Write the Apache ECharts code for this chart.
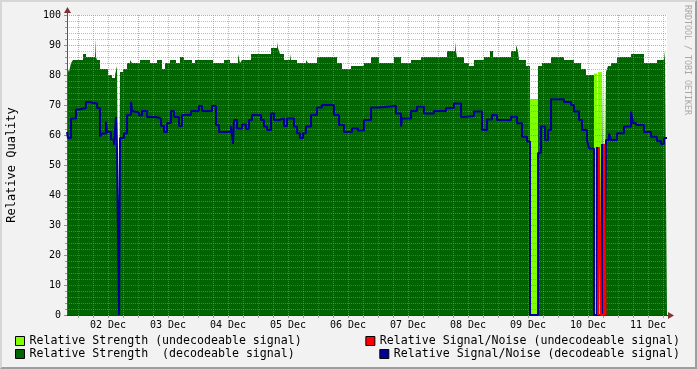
<!DOCTYPE html>
<html><head><meta charset="utf-8">
<script src="https://cdn.jsdelivr.net/npm/echarts@6/dist/echarts.min.js"></script>
<style>
html,body{margin:0;padding:0;background:#f2f2f2;}
#wrap{position:relative;width:697px;height:369px;}
#chart{width:697px;height:369px;}
#frame{position:absolute;left:0;top:0;width:697px;height:369px;box-sizing:border-box;border-top:2px solid #d6d6d6;border-left:2px solid #d6d6d6;border-right:2px solid #9e9e9e;border-bottom:2px solid #9e9e9e;pointer-events:none;}
</style></head><body>
<div id="wrap"><div id="chart"></div><div id="frame"></div></div>
<script>
// ---- data (time in hours since 01 Dec 00:00) ----
const timeStart = 19.6, timeEnd = 259.6;
const dayStarts = [24, 48, 72, 96, 120, 144, 168, 192, 216, 240];
const dayLabels = ['02 Dec','03 Dec','04 Dec','05 Dec','06 Dec','07 Dec','08 Dec','09 Dec','10 Dec','11 Dec'];

const seriesNames = [
  'Relative Strength (undecodeable signal)',
  'Relative Strength  (decodeable signal)',
  'Relative Signal/Noise (undecodeable signal)',
  'Relative Signal/Noise (decodeable signal)'
];

const strengthDecT = [19.6,20.4,21.2,22.0,26.0,27.2,30.8,31.2,31.6,32.8,36.0,37.6,38.8,39.6,40.4,40.8,42.0,43.6,44.8,45.6,48.8,52.8,55.6,57.6,58.8,60.8,63.2,64.8,66.4,69.6,70.8,78.0,82.4,84.8,88.0,88.8,89.6,93.2,101.2,103.6,104.0,104.8,106.4,108.8,109.2,111.6,115.2,116.0,119.6,127.6,129.6,133.2,138.4,141.2,144.4,150.4,153.2,157.2,161.2,171.6,174.8,175.2,175.6,178.4,180.4,182.4,186.4,188.8,190.0,197.2,199.2,200.0,200.4,203.2,204.8,208.0,209.6,213.2,218.4,222.4,225.2,227.2,230.4,231.6,232.0,233.6,234.4,235.2,236.0,237.2,239.6,245.2,250.4,255.6,258.4,258.8,259.6];
const strengthDecV = [83,81,84,85,87,86,92,86,85,82,80,79,80,83,0,81,82,84,85,84,85,84,85,82,84,85,84,86,85,84,85,84,85,84,87,84,85,87,89,91,89,87,85,87,85,84,85,84,86,84,82,83,84,86,84,86,84,85,86,88,91,88,86,84,83,85,86,88,86,88,90,88,85,83,0,83,84,86,85,84,82,80,0,80,0,80,0,81,83,84,86,87,84,85,88,85,85];

const strengthUndT = [19.6,33.6,34.4,40.4,40.8,65.2,65.6,84.4,85.2,86.4,86.8,204.4,204.8,208.0,209.2,209.6,230.4,231.6,232.0,233.6,234.4,235.2,259.6];
const strengthUndV = [0,85,0,81,0,86,0,85,0,84,0,84,72,0,85,0,80.5,0,81,0,80.5,0,0];

const snDecT = [19.6,20.0,21.2,23.2,24.4,27.2,28.4,31.6,32.8,33.6,35.2,35.6,37.2,38.4,39.2,39.6,40.4,40.8,42.4,43.6,45.2,45.6,46.4,48.4,49.6,51.6,55.2,57.2,58.4,59.6,61.2,62.4,64.4,65.6,69.2,72.4,73.6,77.6,79.2,80.4,85.2,86.0,86.4,87.6,89.6,91.2,92.4,93.6,97.2,98.4,99.6,101.2,102.4,104.4,106.4,107.6,110.4,111.6,112.8,114.0,115.2,117.2,119.6,121.6,126.4,128.4,130.4,133.6,136.0,138.4,141.2,144.4,151.2,153.2,153.6,157.2,159.6,162.4,166.4,171.2,174.4,177.2,178.4,179.2,182.4,185.6,187.6,189.6,191.6,197.2,199.6,201.6,203.6,204.8,208.0,209.2,210.8,212.0,213.2,218.4,221.2,222.4,224.4,225.6,227.6,228.4,230.4,231.6,232.0,233.6,234.4,235.2,236.4,237.2,239.6,242.4,245.2,246.0,247.2,250.4,253.2,255.6,257.2,258.4,259.6];
const snDecV = [61,59,65.5,68.5,69,71,70.5,69,59.5,60.5,64.5,61,58.5,56.7,66,55,0,59,60.5,66.7,71,68,67.5,66.5,68,66,65.5,63,61,64,68,66,63,66.7,68,69.7,68,69.7,63.3,61,63,57,65,62.2,63.5,62,65,66.7,65,62.8,61.7,67.2,65,65.5,63,65.5,62.8,60.6,59,60.6,62.8,66.7,69.2,70,66.7,63.3,61,62.2,61.5,65,69.2,69.7,67.2,62.8,65.5,68,69.4,67.2,68,69,70.5,66,65.5,66.3,67.8,61.7,65.2,66.7,65,66.1,63.9,59.4,57.8,0,54,62.8,58.3,61.7,71.9,71,70,67.8,65,61.7,58.3,55.5,0,56,0,57,0,58.3,60.5,58.3,60.6,62.8,67.8,64,63.3,61,59.4,58,57,59,59];

const snUndT = [232.0,232.4,233.2,234.4,235.0];
const snUndV = [0,56,0,57,0];

// ---- styling ----
const MONO = '"DejaVu Sans Mono", monospace';
const cLight = '#80ff00', cDark = '#006400', cRed = '#ff0000', cBlue = '#000096';
const gridMinor = 'rgba(143,143,143,0.6)', gridMajor = 'rgba(222,79,79,0.6)';

function pairs(t, v) { return t.map((x, i) => [x, v[i]]); }

// vertical grid every 6 h, starting at the first midnight; colours cycle major, minor, minor, minor
const gridHours = [];
for (let h = dayStarts[0]; h < timeEnd; h += 6) gridHours.push(h);

const legendBase = {
  orient: 'vertical', padding: 0, itemWidth: 9, itemHeight: 9, icon: 'rect', selectedMode: false,
  textStyle: { fontFamily: MONO, fontSize: 11.6, color: '#000', lineHeight: 14 },
  itemStyle: { borderColor: '#000', borderWidth: 1 }
};

const chart = echarts.init(document.getElementById('chart'), null, { renderer: 'canvas' });
chart.setOption({
  animation: false,
  backgroundColor: '#f2f2f2',
  grid: { left: 67, right: 30, top: 15, bottom: 54, show: true, backgroundColor: '#ffffff', borderWidth: 0 },
  xAxis: {
    type: 'value', min: timeStart, max: timeEnd, z: 3,
    axisLine: { show: true, lineStyle: { color: '#333', width: 1 } },
    axisTick: { show: true, customValues: gridHours, length: 3, lineStyle: { color: ['rgba(222,79,79,0.9)', '#aaa', '#aaa', '#aaa'] } },
    axisLabel: {
      customValues: dayStarts.map(d => d + 12),
      formatter: v => dayLabels[Math.round((v - 12 - dayStarts[0]) / 24)] || '',
      fontFamily: MONO, fontSize: 10, color: '#000', margin: 5
    },
    splitLine: { show: true, lineStyle: { color: [gridMajor, gridMinor, gridMinor, gridMinor], type: [1, 1], width: 1 } }
  },
  yAxis: {
    type: 'value', min: 0, max: 100, interval: 10, z: 3,
    axisLine: { show: true, lineStyle: { color: '#555', width: 1 } },
    axisTick: { show: true, length: 3, lineStyle: { color: 'rgba(222,79,79,0.8)' } },
    minorTick: { show: true, splitNumber: 5, length: 2, lineStyle: { color: '#999' } },
    axisLabel: { fontFamily: MONO, fontSize: 10, color: '#000', margin: 6 },
    splitLine: { show: true, lineStyle: { color: gridMajor, type: [1, 1], width: 1 } },
    minorSplitLine: { show: true, lineStyle: { color: gridMinor, type: [1, 1], width: 1 } }
  },
  legend: [
    Object.assign({}, legendBase, { left: 15, top: 334, data: [seriesNames[0]] }),
    Object.assign({}, legendBase, { left: 15, top: 347, data: [seriesNames[1]] }),
    Object.assign({}, legendBase, { right: 17, top: 334, data: [seriesNames[2]] }),
    Object.assign({}, legendBase, { right: 17, top: 347, data: [seriesNames[3]] })
  ],
  series: [
    { name: seriesNames[0], type: 'line', step: 'end', data: pairs(strengthUndT, strengthUndV), symbol: 'none',
      color: cLight, lineStyle: { width: 0, color: cLight }, areaStyle: { color: cLight, opacity: 1 }, z: 1 },
    { name: seriesNames[1], type: 'line', step: 'end', data: pairs(strengthDecT, strengthDecV), symbol: 'none',
      color: cDark, lineStyle: { width: 0, color: cDark }, areaStyle: { color: cDark, opacity: 1 }, z: 2 },
    { name: seriesNames[3], type: 'line', step: 'end', data: pairs(snDecT, snDecV), symbol: 'none',
      color: cBlue, lineStyle: { width: 2, color: cBlue }, z: 4 },
    { name: seriesNames[2], type: 'line', step: 'end', data: pairs(snUndT, snUndV), symbol: 'none',
      color: cRed, lineStyle: { width: 2, color: cRed }, z: 5 }
  ],
  graphic: [
    { type: 'text', x: 12, y: 165, rotation: Math.PI / 2,
      style: { text: 'Relative Quality', font: '12px "DejaVu Sans Mono"', fill: '#000', align: 'center', verticalAlign: 'middle' } },
    { type: 'text', x: 687, y: 60, rotation: -Math.PI / 2,
      style: { text: 'RRDTOOL / TOBI OETIKER', font: '8.3px "DejaVu Sans Mono"', fill: '#a8a8a8', align: 'center', verticalAlign: 'middle' } },
    { type: 'line', z: 20, shape: { x1: 67.5, y1: 15, x2: 67.5, y2: 12 }, style: { stroke: '#555', lineWidth: 1 } },
    { type: 'polygon', z: 20, shape: { points: [[64, 13], [71, 13], [67.5, 7]] }, style: { fill: '#803333' } },
    { type: 'line', z: 20, shape: { x1: 667, y1: 315.5, x2: 669, y2: 315.5 }, style: { stroke: '#333', lineWidth: 1 } },
    { type: 'polygon', z: 20, shape: { points: [[668, 312], [668, 319], [674, 315.5]] }, style: { fill: '#803333' } }
  ]
});
</script>
</body></html>
